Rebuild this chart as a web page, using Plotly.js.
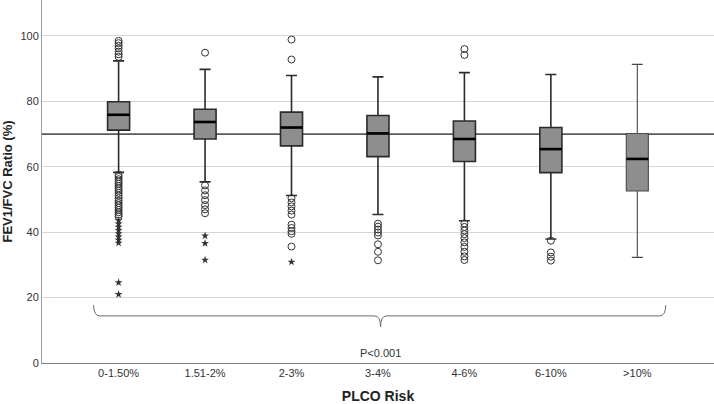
<!DOCTYPE html>
<html>
<head>
<meta charset="utf-8">
<script src="https://cdn.plot.ly/plotly-3.0.1.min.js"></script>
<style>html,body{margin:0;padding:0;background:#fff;}#chart{width:714px;height:404px;}</style>
</head>
<body>
<div id="chart"></div>
<script>
// Categories (PLCO risk groups)
const categories = ["0-1.50%", "1.51-2%", "2-3%", "3-4%", "4-6%", "6-10%", ">10%"];
// Box statistics (FEV1/FVC ratio, %)
const lowerWhisker = [58.3, 55.4, 51.2, 45.4, 43.5, 37.9, 32.3];
const q1Values     = [71.2, 68.5, 66.4, 63.1, 61.6, 58.2, 52.6];
const medianValues = [75.9, 73.7, 72.0, 70.2, 68.5, 65.4, 62.4];
const q3Values     = [79.9, 77.6, 76.7, 75.7, 74.0, 72.0, 70.2];
const upperWhisker = [92.4, 89.8, 87.9, 87.5, 88.8, 88.2, 91.3];
// Outliers (circles) per category
const outliers = [
  [98.5, 97.8, 97.0, 96.2, 95.2, 94.4, 93.6,
   57.6, 56.9, 56.2, 55.5, 54.8, 54.1, 53.4, 52.7, 52.0, 51.2, 50.4, 49.6, 48.9, 48.2, 47.5, 46.8, 46.1, 45.4, 44.8],
  [94.9, 54.3, 52.8, 51.3, 49.8, 48.3, 47.0, 45.8],
  [98.9, 92.8, 50.4, 49.1, 47.9, 46.6, 45.4, 42.3, 41.3, 40.3, 39.5, 35.6],
  [42.6, 41.7, 40.8, 39.9, 39.0, 36.3, 34.0, 31.4],
  [96.0, 94.2, 42.7, 41.6, 40.5, 39.4, 38.2, 36.9, 35.5, 34.0, 32.6, 31.5],
  [37.4, 33.8, 32.5, 31.3],
  []
];
// Extreme values (stars) per category
const extremes = [
  [43.6, 42.6, 41.6, 40.6, 39.6, 38.6, 37.6, 36.7, 24.6, 21.0],
  [38.9, 36.6, 31.5],
  [30.9],
  [], [], [], []
];
const refValue = 70;
const pLabel = "P<0.001";

const idx = categories.map((c, i) => i);
const boxW = 0.255;
const ox = [], oy = [], ex = [], ey = [];
outliers.forEach((arr, i) => arr.forEach(v => { ox.push(i); oy.push(v); }));
extremes.forEach((arr, i) => arr.forEach(v => { ex.push(i); ey.push(v); }));

function boxTrace(ids, lw, lc) {
  return {
    type: "box",
    x: ids.map(i => idx[i]),
    q1: ids.map(i => q1Values[i]),
    median: ids.map(i => medianValues[i]),
    q3: ids.map(i => q3Values[i]),
    lowerfence: ids.map(i => lowerWhisker[i]),
    upperfence: ids.map(i => upperWhisker[i]),
    width: boxW,
    whiskerwidth: 0.5,
    fillcolor: "#8e8e8e",
    line: {color: lc, width: lw},
    boxpoints: false,
    hoverinfo: "skip",
    showlegend: false
  };
}

const data = [
  boxTrace([0,1,2,3,4,5], 1.6, "#2b2b2b"),
  boxTrace([6], 1.1, "#4a4a4a"),
  {
    type: "scatter", mode: "markers",
    x: ox, y: oy,
    marker: {symbol: "circle-open", size: 7, color: "#333", line: {width: 1, color: "#333"}},
    hoverinfo: "skip", showlegend: false
  },
  {
    type: "scatter", mode: "markers",
    x: ex, y: ey,
    marker: {symbol: "star", size: 6, color: "#333", line: {width: 0}},
    hoverinfo: "skip", showlegend: false
  }
];

const medianShapes = idx.map(i => ({
  type: "line", xref: "x", yref: "y",
  x0: i - boxW / 2, x1: i + boxW / 2, y0: medianValues[i], y1: medianValues[i],
  line: {color: "#000", width: 2.6}
}));

const layout = {
  width: 714, height: 404,
  margin: {l: 42, r: 0, t: 0, b: 41},
  paper_bgcolor: "#fff", plot_bgcolor: "#fff",
  font: {family: "Liberation Sans, Arial, sans-serif", size: 11, color: "#333"},
  xaxis: {
    range: [-0.886, 6.887],
    tickvals: idx, ticktext: categories,
    showgrid: false, zeroline: false,
    showline: true, linecolor: "#808080", linewidth: 1.2,
    ticks: "", ticklen: 0,
    tickfont: {size: 11, color: "#333"},
    title: {text: "<b>PLCO Risk</b>", font: {size: 14, color: "#222"}, standoff: 14}
  },
  yaxis: {
    range: [0, 111],
    tickvals: [0, 20, 40, 60, 80, 100],
    showgrid: true, gridcolor: "#d6d6d6", gridwidth: 1,
    zeroline: false,
    showline: true, linecolor: "#a0a0a0", linewidth: 1,
    ticks: "", ticklen: 0,
    tickfont: {size: 11, color: "#333"},
    title: {text: "<b>FEV1/FVC Ratio (%)</b>", font: {size: 13, color: "#222"}, standoff: 10}
  },
  shapes: [
    {type: "line", xref: "paper", x0: 0, x1: 1, yref: "y", y0: refValue, y1: refValue,
     line: {color: "#5a5a5a", width: 1.6}, layer: "below"},
    {type: "path", xref: "x", yref: "y",
     path: "M -0.29,17.7 Q -0.285,14.4 -0.22,14.4 L 2.96,14.4 Q 3.03,14.4 3.03,11.0 Q 3.03,14.4 3.10,14.4 L 6.26,14.4 Q 6.325,14.4 6.33,17.7",
     line: {color: "#6a6a6a", width: 1}}
  ].concat(medianShapes),
  annotations: [
    {x: 3.03, y: 3.2, xref: "x", yref: "y", text: pLabel, showarrow: false,
     font: {size: 11, color: "#333"}}
  ]
};

Plotly.newPlot("chart", data, layout, {staticPlot: true, displayModeBar: false});
</script>
</body>
</html>
